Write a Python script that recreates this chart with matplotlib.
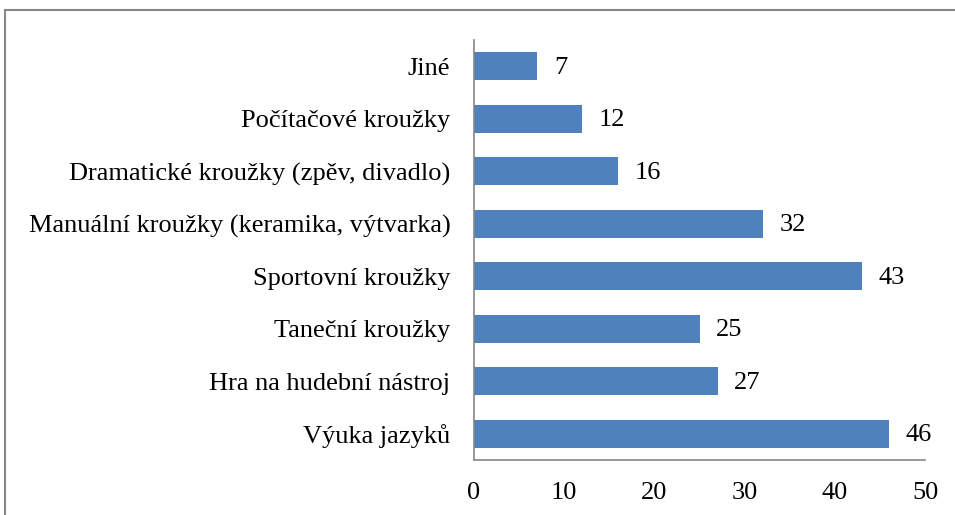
import matplotlib
matplotlib.use("Agg")
import matplotlib.pyplot as plt
from matplotlib.patches import Rectangle

categories = ["Výuka jazyků", "Hra na hudební nástroj", "Taneční kroužky",
              "Sportovní kroužky", "Manuální kroužky (keramika, výtvarka)",
              "Dramatické kroužky (zpěv, divadlo)", "Počítačové kroužky", "Jiné"]
values = [46, 27, 25, 43, 32, 16, 12, 7]
xticks = [0, 10, 20, 30, 40, 50]

plt.rcParams['font.family'] = ['Liberation Serif', 'DejaVu Serif']
FS = 19

fig = plt.figure(figsize=(9.55, 5.15), dpi=100)
ax = fig.add_axes([474/955, 1-460/515, (925-474)/955, 420/515])

bars = ax.barh(range(len(categories)), values, height=0.53, color='#4F81BD')
ax.set_ylim(-0.5, len(categories)-0.5)
ax.set_xlim(0, 50)
ax.set_yticks(range(len(categories)))
ax.set_yticklabels(categories, fontsize=FS)
ax.set_xticks(xticks)
ax.set_xticklabels([str(t) for t in xticks], fontsize=FS)
ax.tick_params(axis='both', length=0)
ax.tick_params(axis='y', pad=17)
ax.tick_params(axis='x', pad=16)
for s in ['top', 'right']:
    ax.spines[s].set_visible(False)
for s in ['left', 'bottom']:
    ax.spines[s].set_color('#868686')
    ax.spines[s].set_linewidth(1.2)

for b, v in zip(bars, values):
    ax.annotate(str(v), (b.get_width(), b.get_y() + b.get_height()/2),
                xytext=(12, -1), textcoords='offset points', va='center', ha='left',
                fontsize=FS)

fig.patches.append(Rectangle((5/955, -0.1), 1.1, 1 - 10/515 + 0.1,
                             transform=fig.transFigure, fill=False,
                             edgecolor='#878787', linewidth=1.5))

fig.savefig('out.png', dpi=100)
